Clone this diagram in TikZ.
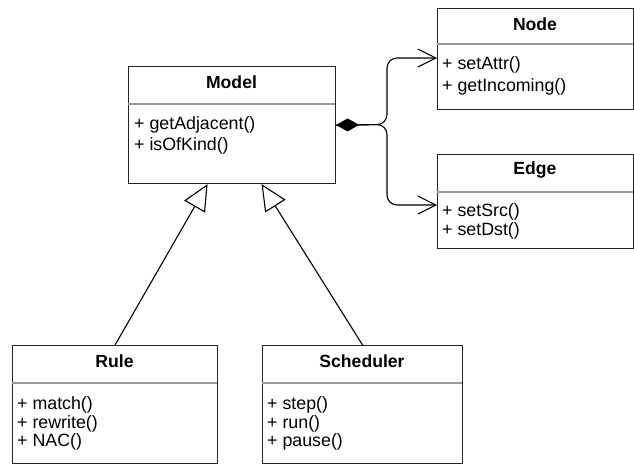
\documentclass[tikz,border=0pt]{standalone}
\usepackage{fontspec}
\setmainfont{Liberation Sans}
\usetikzlibrary{arrows.meta,calc}
\tikzset{
  cls/.style={draw=black!85, line width=1.1pt, fill=white, anchor=north west, inner sep=0pt},
  divider/.style={draw=black!40, line width=1.3pt},
  ttl/.style={font=\fontsize{17.6}{19}\selectfont\bfseries, inner sep=0pt, anchor=center},
  op/.style={font=\fontsize{17.8}{19}\selectfont, inner sep=0pt, anchor=west},
  conn/.style={line width=1.1pt, rounded corners=10pt},
  inherit/.style={line width=1.1pt, -{Triangle[open, fill=white, length=26pt, width=24pt]}},
}
\begin{document}
\begin{tikzpicture}[x=1pt, y=-1pt]
\useasboundingbox (0,0) rectangle (634,464);
% Model
\node[cls, minimum width=207pt, minimum height=117pt] (model) at (128,66) {};
\node[ttl] (modelT) at (231.5,82) {Model};
\draw[divider] (128,104) -- (335,104);
\node[op] (m1) at (134,124.5) {+ getAdjacent()};
\node[op] (m2) at (134,145.5) {+ isOfKind()};
% Node
\node[cls, minimum width=196pt, minimum height=101pt] (nodeC) at (437,8) {};
\node[ttl] (nodeT) at (535,24) {Node};
\draw[divider] (437,44) -- (633,44);
\node[op] (n1) at (442,65) {+ setAttr()};
\node[op] (n2) at (442,87) {+ getIncoming()};
% Edge
\node[cls, minimum width=196pt, minimum height=94pt] (edge) at (437,154) {};
\node[ttl] (edgeT) at (535,170) {Edge};
\draw[divider] (437,192) -- (633,192);
\node[op] (e1) at (442,212) {+ setSrc()};
\node[op] (e2) at (442,231) {+ setDst()};
% Rule
\node[cls, minimum width=205pt, minimum height=118pt] (rule) at (12,345) {};
\node[ttl] (ruleT) at (114.5,361) {Rule};
\draw[divider] (12,383) -- (217,383);
\node[op] (r1) at (17,405) {+ match()};
\node[op] (r2) at (17,424) {+ rewrite()};
\node[op] (r3) at (17,442) {+ NAC()};
% Scheduler
\node[cls, minimum width=200pt, minimum height=118pt] (sched) at (262,345) {};
\node[ttl] (schedT) at (362,361) {Scheduler};
\draw[divider] (262,383) -- (462,383);
\node[op] (s1) at (267,405) {+ step()};
\node[op] (s2) at (267,424) {+ run()};
\node[op] (s3) at (267,442) {+ pause()};
% composition
\draw[conn, -{Straight Barb[length=18pt, width=18pt]}] (model.east) -- (387,124.5) -- (387,58) -- (nodeC.west |- 0,58);
\draw[conn, {Diamond[length=23pt, width=13pt]}-{Straight Barb[length=18pt, width=18pt]}] (model.east) -- (387,124.5) -- (387,205) -- (edge.west |- 0,205);
% inheritance
\draw[inherit] (rule.north) -- ([xshift=-24.5pt]model.south);
\draw[inherit] (sched.north) -- ([xshift=29.5pt]model.south);
\end{tikzpicture}
\end{document}
